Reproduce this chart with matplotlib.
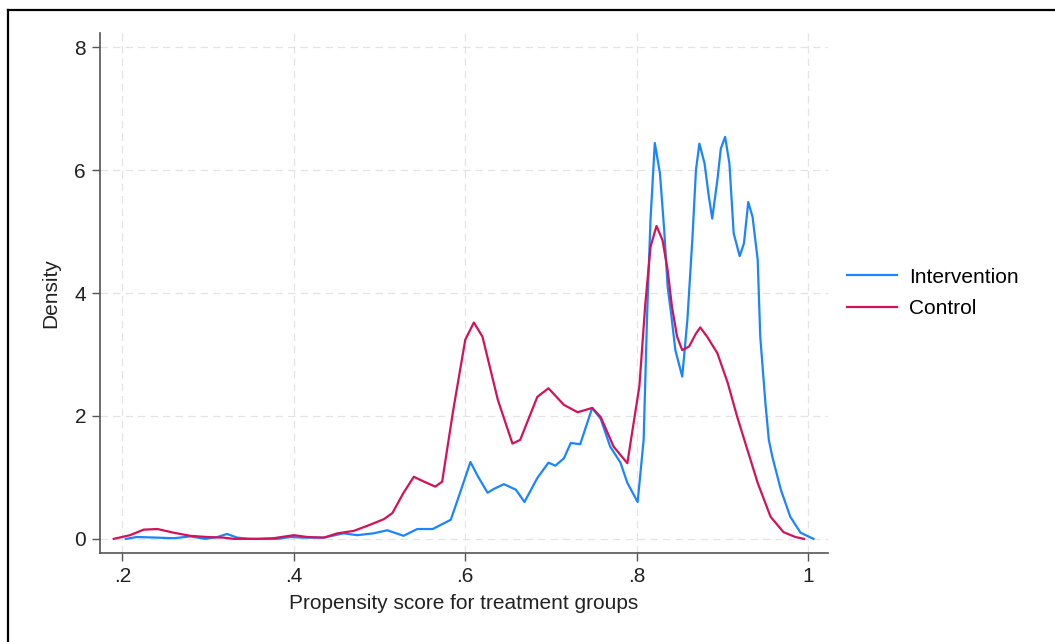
import matplotlib.pyplot as plt
from matplotlib.lines import Line2D

plt.rcParams['font.family'] = ['Liberation Sans', 'DejaVu Sans']

# Kernel density of propensity score
x_int = [0.204, 0.217, 0.241, 0.260, 0.279, 0.297, 0.311, 0.322, 0.334, 0.349,
         0.381, 0.396, 0.411, 0.435, 0.458, 0.474, 0.493, 0.509, 0.528, 0.544,
         0.562, 0.583, 0.591, 0.606, 0.615, 0.626, 0.633, 0.645, 0.659, 0.669,
         0.684, 0.697, 0.705, 0.715, 0.723, 0.734, 0.748, 0.758, 0.769, 0.781,
         0.789, 0.801, 0.808, 0.812, 0.816, 0.821, 0.827, 0.832, 0.836, 0.840,
         0.845, 0.853, 0.859, 0.865, 0.869, 0.873, 0.879, 0.884, 0.888, 0.894,
         0.898, 0.903, 0.908, 0.913, 0.920, 0.925, 0.930, 0.935, 0.941, 0.944,
         0.950, 0.954, 0.958, 0.968, 0.979, 0.991, 1.006]
y_int = [0.0, 0.03, 0.02, 0.01, 0.04, 0.0, 0.03, 0.08, 0.02, 0.0,
         0.0, 0.03, 0.02, 0.02, 0.09, 0.06, 0.09, 0.14, 0.05, 0.16,
         0.16, 0.31, 0.63, 1.25, 1.01, 0.75, 0.81, 0.89, 0.80, 0.60,
         0.99, 1.24, 1.19, 1.31, 1.56, 1.54, 2.13, 1.95, 1.50, 1.24,
         0.91, 0.60, 1.61, 3.62, 5.19, 6.44, 5.95, 5.02, 4.10, 3.67,
         3.07, 2.64, 3.56, 4.92, 6.00, 6.43, 6.11, 5.57, 5.21, 5.84,
         6.35, 6.54, 6.11, 4.97, 4.60, 4.81, 5.48, 5.24, 4.54, 3.29,
         2.21, 1.61, 1.34, 0.80, 0.36, 0.10, 0.0]

x_ctl = [0.190, 0.209, 0.225, 0.241, 0.260, 0.279, 0.299, 0.318, 0.330, 0.358,
         0.376, 0.400, 0.416, 0.435, 0.451, 0.470, 0.489, 0.505, 0.515, 0.528,
         0.540, 0.552, 0.565, 0.573, 0.586, 0.600, 0.610, 0.620, 0.638, 0.655,
         0.664, 0.684, 0.697, 0.715, 0.731, 0.748, 0.758, 0.773, 0.789, 0.795,
         0.803, 0.810, 0.816, 0.823, 0.830, 0.836, 0.841, 0.847, 0.853, 0.861,
         0.869, 0.874, 0.882, 0.894, 0.906, 0.917, 0.929, 0.941, 0.956, 0.971,
         0.985, 0.995]
y_ctl = [0.0, 0.06, 0.15, 0.16, 0.10, 0.05, 0.03, 0.02, 0.0, 0.0,
         0.01, 0.06, 0.03, 0.02, 0.09, 0.13, 0.23, 0.32, 0.42, 0.75,
         1.01, 0.93, 0.85, 0.93, 2.10, 3.24, 3.52, 3.29, 2.26, 1.55,
         1.61, 2.31, 2.45, 2.18, 2.06, 2.13, 1.98, 1.50, 1.23, 1.77,
         2.48, 3.83, 4.75, 5.09, 4.86, 4.37, 3.78, 3.29, 3.07, 3.13,
         3.34, 3.44, 3.29, 3.02, 2.54, 1.99, 1.45, 0.91, 0.36, 0.11,
         0.03, 0.0]

xticks = [0.2, 0.4, 0.6, 0.8, 1.0]
xticklabels = ['.2', '.4', '.6', '.8', '1']
yticks = [0, 2, 4, 6, 8]

fig = plt.figure(figsize=(10.55, 6.42), dpi=100)
ax = fig.add_axes([100 / 1055, 1 - 553 / 642, 728 / 1055, 520 / 642])

ax.plot(x_int, y_int, color='#1a85ff', lw=1.6, label='Intervention')
ax.plot(x_ctl, y_ctl, color='#d41159', lw=1.6, label='Control')

ax.set_xlim(0.174, 1.023)
ax.set_ylim(-0.23, 8.23)
ax.set_xticks(xticks)
ax.set_xticklabels(xticklabels)
ax.set_yticks(yticks)

ax.grid(True, color='#e4e4e4', linestyle=(0, (6, 4)), lw=0.9)
ax.set_axisbelow(True)
for side in ['top', 'right']:
    ax.spines[side].set_visible(False)
for side in ['left', 'bottom']:
    ax.spines[side].set_color('#555555')
    ax.spines[side].set_linewidth(1.2)
ax.tick_params(direction='out', length=6, width=1.0, color='#555555',
               labelsize=15, labelcolor='#222222', pad=4)

ax.set_xlabel('Propensity score for treatment groups', fontsize=15,
              color='#222222', labelpad=6)
ax.set_ylabel('Density', fontsize=15, color='#222222', labelpad=10)

ax.legend(loc='center left', bbox_to_anchor=(1.0, 0.5), frameon=False,
          fontsize=15, handlelength=2.4, handletextpad=0.6, labelspacing=0.6)

# outer frame of the exported graph
fig.add_artist(Line2D([7.5 / 1055, 1], [1 - 10 / 642, 1 - 10 / 642],
                      color='black', lw=1.6))
fig.add_artist(Line2D([7.5 / 1055, 7.5 / 1055], [0, 1 - 10 / 642],
                      color='black', lw=1.6))

fig.savefig('out.png', dpi=100)
